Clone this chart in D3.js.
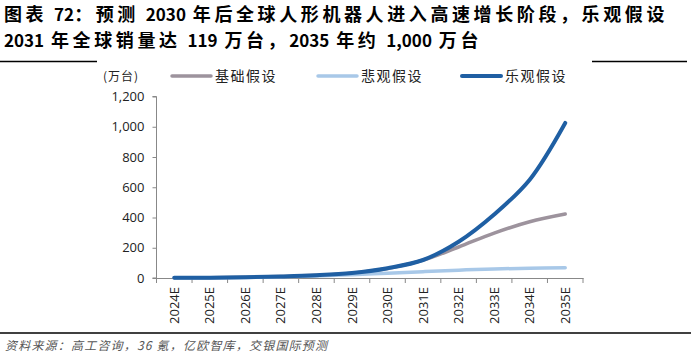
<!DOCTYPE html>
<html><head><meta charset="utf-8">
<script src="https://cdn.jsdelivr.net/npm/d3@7/dist/d3.min.js"></script>
<style>body{margin:0;background:#fff}svg{display:block}</style>
</head><body>
<svg id="c" width="691" height="355"></svg>
<script>
const categories = ["2024E","2025E","2026E","2027E","2028E","2029E","2030E","2031E","2032E","2033E","2034E","2035E"];
const baseCase = [1, 2, 5, 10, 18, 32, 63, 118, 205, 297, 372, 423];
const bearCase = [1, 2, 4, 8, 14, 22, 32, 42, 52, 60, 65, 68];
const bullCase = [1, 2, 5, 10, 18, 33, 65, 119, 240, 420, 650, 1025];
const yTicks = [0, 200, 400, 600, 800, 1000, 1200];
const seriesNames = ["基础假设", "悲观假设", "乐观假设"];
const titleLines = ["图表 72：预测 2030 年后全球人形机器人进入高速增长阶段，乐观假设", "2031 年全球销量达 119 万台，2035 年约 1,000 万台"];
const unitLabel = "(万台)";
const sourceText = "资料来源：高工咨询，36 氪，亿欧智库，交银国际预测";

const svg = d3.select("#c");
const series = [
  {name: seriesNames[0], values: baseCase, color: "#9d939d", w: 3.5},
  {name: seriesNames[1], values: bearCase, color: "#a8c8e8", w: 3.5},
  {name: seriesNames[2], values: bullCase, color: "#1f5fa3", w: 4}
];

const cjkRe = /([\u3000-\u9fff\uff00-\uffef]+)/;
function runs(s) {
  return s.split(cjkRe).filter(p => p.length)
    .map(p => ({t: p.replace(/ /g, "\u00A0"), cjk: /[\u3000-\u9fff\uff00-\uffef]/.test(p)}));
}

// title
const tfont = "'Noto Sans CJK SC', sans-serif";
svg.selectAll("text.title").data(titleLines).join("text").attr("class", "title")
  .attr("x", 4).attr("y", (d,i) => 21 + i*26)
  .attr("font-family", tfont).attr("font-weight", "bold").attr("fill", "#000")
  .selectAll("tspan").data(d => runs(d)).join("tspan")
  .attr("font-size", d => d.cjk ? 18 : 17)
  .attr("letter-spacing", d => d.cjk ? 3.6 : 0)
  .attr("word-spacing", d => d.cjk ? 0 : 3)
  .text(d => d.t);

// separator lines
svg.append("line").attr("x1", 0).attr("x2", 97).attr("y1", 61.5).attr("y2", 61.5).attr("stroke", "#000").attr("stroke-width", 1.3);
svg.append("line").attr("x1", 592).attr("x2", 687).attr("y1", 61.5).attr("y2", 61.5).attr("stroke", "#000").attr("stroke-width", 1.3);
svg.append("line").attr("x1", 0).attr("x2", 691).attr("y1", 333).attr("y2", 333).attr("stroke", "#000").attr("stroke-width", 1.3);

// scales
const x = d3.scaleBand().domain(categories).range([156.5, 583]);
const y = d3.scaleLinear().domain([0, 1200]).range([278, 96.5]);

// y axis
const yAxis = svg.append("g").attr("transform", "translate(156.5,0)")
  .call(d3.axisLeft(y).tickValues(yTicks).tickSize(4).tickFormat(d3.format(",")));
yAxis.select(".domain").attr("stroke", "#888").attr("d", "M-4,96.5H0V278H-4");
yAxis.selectAll(".tick line").attr("stroke", "#888");
yAxis.selectAll(".tick text").attr("font-family", "'Open Sans', sans-serif").attr("font-size", 13).attr("fill", "#222").attr("x", -12);

// x axis
const xAxis = svg.append("g").attr("transform", "translate(0,278)")
  .call(d3.axisBottom(x).tickSize(0).tickSizeOuter(0));
xAxis.select(".domain").attr("stroke", "#888");
xAxis.selectAll(".tick line").remove();
const bounds = categories.map(c => x(c)).concat([x.range()[1]]);
xAxis.selectAll("line.bt").data(bounds).join("line")
  .attr("x1", d => d).attr("x2", d => d).attr("y1", 0).attr("y2", 5).attr("stroke", "#888");
xAxis.selectAll(".tick text")
  .attr("font-family", "'Open Sans', sans-serif").attr("font-size", 13).attr("fill", "#222")
  .attr("transform", "rotate(-90)").attr("text-anchor", "end").attr("x", -9).attr("y", 0).attr("dy", "0.35em");

// lines
const line = d3.line().x((d,i) => x(categories[i]) + x.bandwidth()/2).y(d => y(d)).curve(d3.curveCatmullRom.alpha(0.5));
svg.selectAll("path.s").data(series).join("path")
  .attr("fill", "none").attr("stroke", d => d.color).attr("stroke-width", d => d.w)
  .attr("stroke-linecap", "round").attr("d", d => line(d.values));

// legend
svg.append("text").attr("x", 103).attr("y", 81).attr("font-family", "'Noto Sans CJK SC', sans-serif")
  .attr("font-size", 12).attr("letter-spacing", 1).attr("fill", "#222").text(unitLabel);
const lx = [172, 318, 462];
const lg = svg.selectAll("g.lg").data(series).join("g").attr("transform", (d,i) => `translate(${lx[i]},76)`);
lg.append("line").attr("x1", 0).attr("x2", 39).attr("stroke", d => d.color).attr("stroke-width", d => d.w).attr("stroke-linecap", "round");
lg.append("text").attr("x", 43).attr("y", 5).attr("font-family", "'Noto Sans CJK SC', sans-serif")
  .attr("font-size", 14).attr("letter-spacing", 1.5).attr("fill", "#222").text(d => d.name);

// source
svg.append("text").attr("x", 5).attr("y", 350).attr("font-family", "'Noto Sans CJK SC', sans-serif")
  .attr("font-size", 12).attr("letter-spacing", 1.2).attr("font-style", "italic").attr("fill", "#555").text(sourceText);
</script>
</body></html>
